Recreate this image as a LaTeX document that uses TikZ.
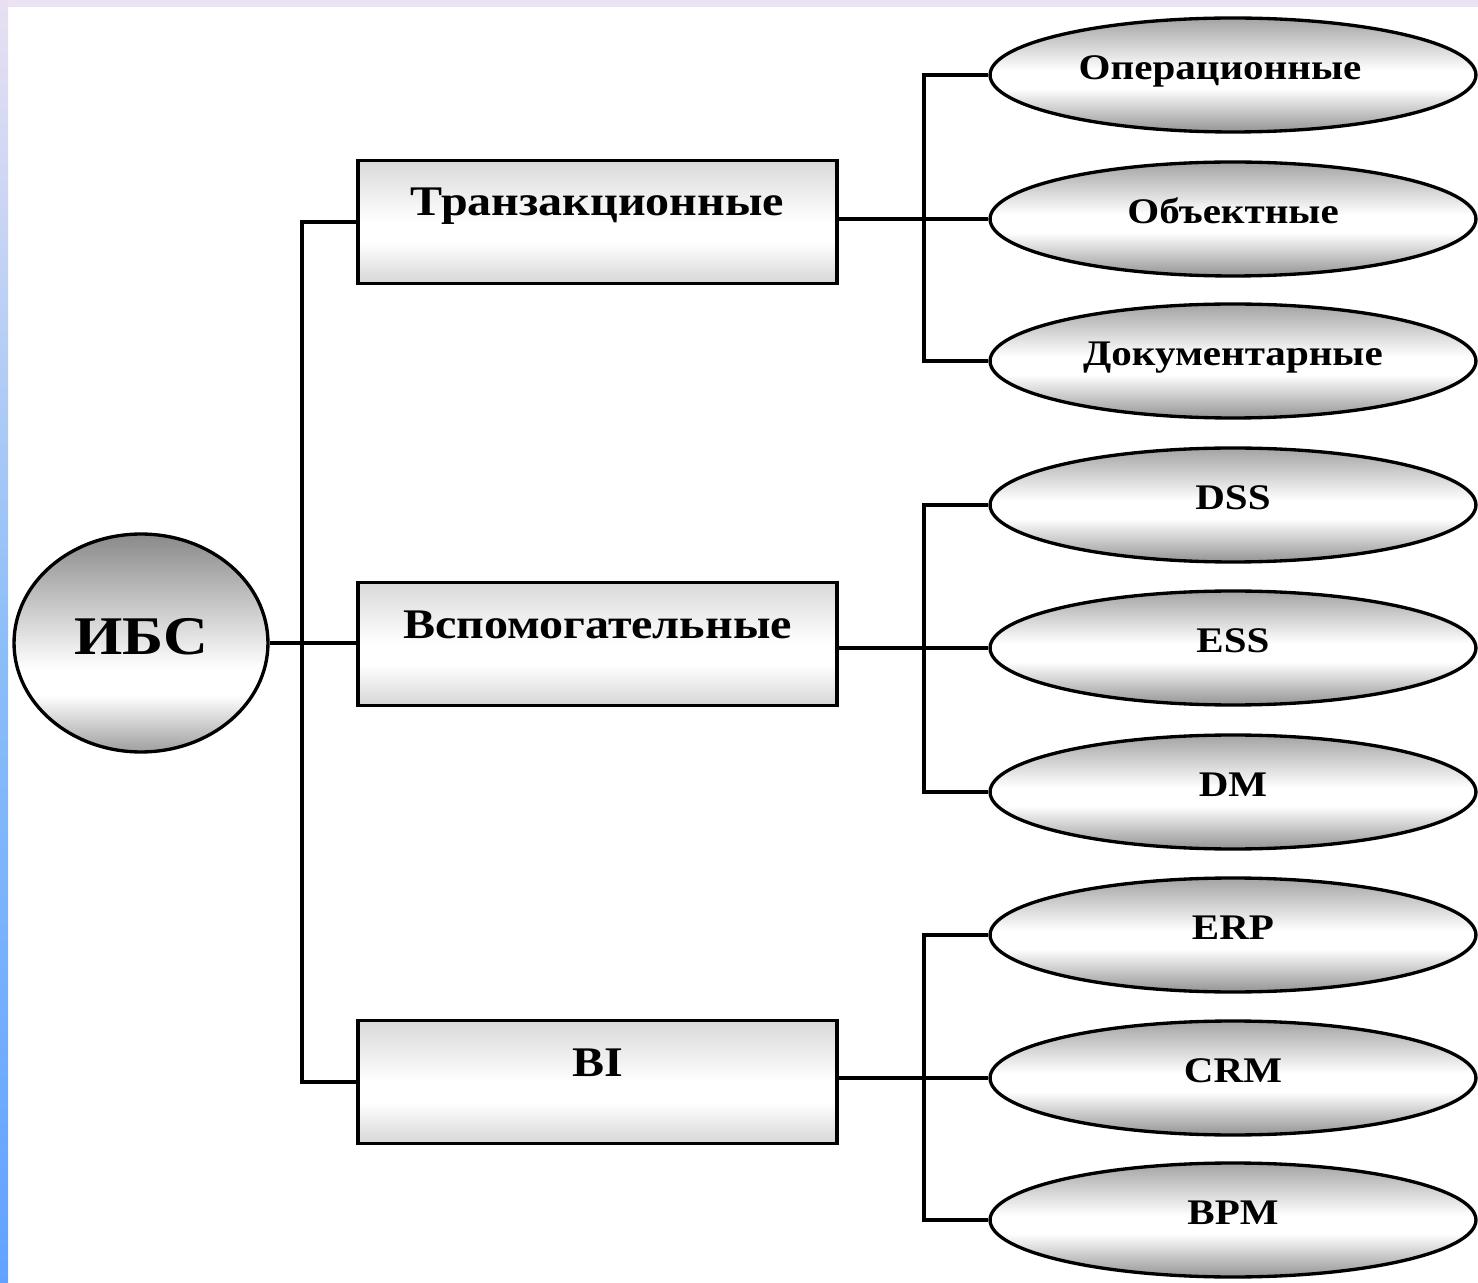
\documentclass[tikz,border=0pt]{standalone}
\usepackage{fontspec}
\setmainfont{Liberation Serif}[FakeStretch=1.14]
\usetikzlibrary{shapes.geometric}
\definecolor{topstrip}{HTML}{EBE3F3}
\definecolor{stripA}{HTML}{E8E0F2}
\definecolor{stripB}{HTML}{8CBEF8}
\definecolor{stripC}{HTML}{62A2FF}
\pgfdeclareverticalshading{leafshade}{100bp}{color(0bp)=(black!42); color(25bp)=(black!42); color(44bp)=(white); color(52bp)=(white); color(75bp)=(black!36); color(100bp)=(black!36)}
\pgfdeclareverticalshading{boxshade}{100bp}{color(0bp)=(black!16); color(25bp)=(black!16); color(42bp)=(white); color(50bp)=(white); color(75bp)=(black!15); color(100bp)=(black!15)}
\pgfdeclareverticalshading{ibsshade}{100bp}{color(0bp)=(black!38); color(25bp)=(black!38); color(38bp)=(white); color(44bp)=(white); color(75bp)=(black!46); color(100bp)=(black!46)}
\newcommand{\catlabel}[1]{\raisebox{0.12cm}{#1}}
\newcommand{\leaflabel}[1]{\raisebox{-0.09cm}{#1}}
\begin{document}
\begin{tikzpicture}[x=0.02cm,y=-0.02cm,
  conn/.style={line width=2pt, black},
  catbox/.style={draw, line width=2.1pt, rectangle, minimum width=9.58cm, minimum height=2.46cm, inner sep=0pt, shade, shading=boxshade, text height=0pt, text depth=0pt, font=\fontsize{24}{28}\selectfont\bfseries},
  leaf/.style={draw, line width=1.9pt, ellipse, minimum width=9.72cm, minimum height=2.28cm, inner sep=0pt, shade, shading=leafshade, text height=0pt, text depth=0pt, font=\fontsize{20.5}{24}\selectfont\bfseries},
  rootnode/.style={draw, line width=1.9pt, ellipse, minimum width=5.08cm, minimum height=4.36cm, inner sep=0pt, shade, shading=ibsshade, text height=0pt, text depth=0pt, font=\fontsize{31}{36}\selectfont\bfseries}
]
\useasboundingbox (0,0) rectangle (1478,1283);
\fill[white] (0,0) rectangle (1478,1283);
\fill[topstrip] (0,0) rectangle (1478,7);
\shade[top color=stripA, bottom color=stripC, middle color=stripB] (0,0) rectangle (8,1283);

% root
\node[rootnode] (ibs) at (141,643) {\raisebox{-0.24cm}{ИБС}};

% categories
\node[catbox] (b1) at (597.5,222) {\catlabel{Транзакционные}};
\node[catbox] (b2) at (597.5,644) {\catlabel{Вспомогательные}};
\node[catbox] (b3) at (597.5,1082) {\catlabel{BI}};

% leaves
\node[leaf] (e1) at (1233,75) {\leaflabel{Операционные\hspace*{0.52cm}}};
\node[leaf] (e2) at (1233,219) {\leaflabel{Объектные}};
\node[leaf] (e3) at (1233,361) {\leaflabel{Документарные}};
\node[leaf] (e4) at (1233,505) {\leaflabel{DSS}};
\node[leaf] (e5) at (1233,648) {\leaflabel{ESS}};
\node[leaf] (e6) at (1233,792) {\leaflabel{DM}};
\node[leaf] (e7) at (1233,935) {\leaflabel{ERP}};
\node[leaf] (e8) at (1233,1078) {\leaflabel{CRM}};
\node[leaf] (e9) at (1233,1220) {\leaflabel{BPM}};

\coordinate (t) at (302,0);
\coordinate (s) at (924,0);

% trunk
\draw[conn] (ibs.east) -- (ibs.east -| b2.west);
\draw[conn] (b1.west) -- (b1.west -| t) -- (b3.west -| t) -- (b3.west);

% groups
\draw[conn] (e2.west -| b1.east) -- (e2.west);
\draw[conn] (e1.west) -- (e1.west -| s) -- (e3.west -| s) -- (e3.west);
\draw[conn] (e5.west -| b2.east) -- (e5.west);
\draw[conn] (e4.west) -- (e4.west -| s) -- (e6.west -| s) -- (e6.west);
\draw[conn] (e8.west -| b3.east) -- (e8.west);
\draw[conn] (e7.west) -- (e7.west -| s) -- (e9.west -| s) -- (e9.west);
\end{tikzpicture}
\end{document}
